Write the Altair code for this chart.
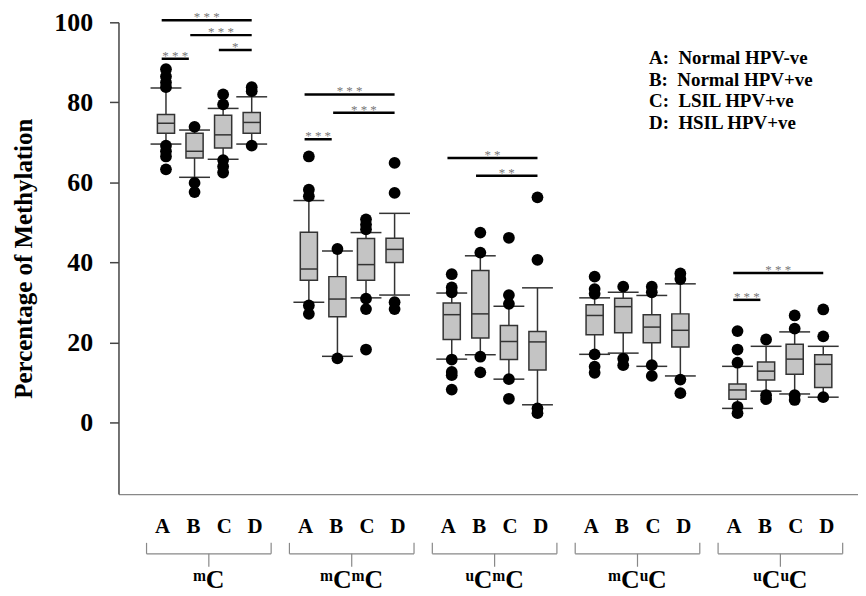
import altair as alt
import pandas as pd

# ---------------- data ----------------
group_names = ["mC", "mCmC", "uCmC", "mCuC", "uCuC"]
group_labels = ["ᵐC", "ᵐCᵐC", "ᵘCᵐC", "ᵐCᵘC", "ᵘCᵘC"]
letters = ["A", "B", "C", "D"]
legend_lines = [
    "A:\u00a0 Normal HPV-ve",
    "B:\u00a0 Normal HPV+ve",
    "C:\u00a0 LSIL HPV+ve",
    "D:\u00a0 HSIL HPV+ve",
]

# per group, per letter (A, B, C, D)
lower_whisker = [
    [69.6, 61.3, 65.8, 69.6],
    [30.1, 16.6, 31.2, 31.9],
    [15.9, 17.0, 10.9, 4.5],
    [17.1, 17.4, 14.1, 11.7],
    [3.6, 7.9, 7.2, 6.4],
]
q1 = [
    [72.3, 66.1, 68.6, 72.3],
    [35.6, 26.5, 35.6, 40.0],
    [20.8, 21.2, 15.8, 13.2],
    [22.0, 22.5, 20.0, 18.9],
    [5.9, 10.7, 12.1, 8.8],
]
median = [
    [74.8, 67.8, 71.9, 75.0],
    [38.4, 30.9, 39.5, 43.3],
    [27.0, 27.2, 20.3, 20.2],
    [26.8, 29.0, 23.9, 23.1],
    [8.2, 12.9, 15.9, 14.6],
]
q3 = [
    [77.0, 72.3, 76.8, 77.5],
    [47.6, 36.5, 46.0, 46.1],
    [29.9, 38.0, 24.3, 22.8],
    [29.5, 31.1, 27.0, 27.2],
    [9.7, 15.2, 19.6, 17.0],
]
upper_whisker = [
    [83.6, 73.1, 78.5, 81.4],
    [55.5, 42.9, 47.5, 52.3],
    [32.4, 41.7, 29.1, 33.7],
    [31.2, 32.6, 31.8, 34.7],
    [14.1, 19.1, 22.7, 19.1],
]
outliers = [
    [[88.3, 86.5, 85.0, 83.8, 69.2, 67.8, 66.5, 63.3],
     [73.9, 59.9, 57.6],
     [82.0, 79.5, 65.6, 64.0, 62.5],
     [83.8, 82.8, 69.2]],
    [[66.5, 58.2, 56.6, 29.3, 27.2],
     [43.4, 16.1],
     [50.8, 49.5, 48.3, 31.0, 28.4, 18.3],
     [64.9, 57.4, 30.1, 28.4]],
    [[37.1, 33.8, 32.6, 15.8, 12.7, 11.9, 8.3],
     [47.5, 42.5, 16.5, 12.6],
     [46.2, 31.9, 29.7, 10.9, 6.0],
     [56.3, 40.7, 3.6, 2.4]],
    [[36.5, 33.4, 32.2, 17.1, 14.0, 12.5],
     [34.0, 16.0, 14.4],
     [34.0, 32.6, 14.4, 11.7],
     [37.3, 35.9, 10.8, 7.4]],
    [[22.9, 18.3, 15.0, 4.0, 2.4],
     [20.8, 6.9, 5.9],
     [26.8, 23.5, 6.9, 5.7],
     [28.3, 21.6, 6.4]],
]

# significance bars: group index, from letter, to letter, height, label
sig_group = [0, 0, 0, 0, 1, 1, 1, 2, 2, 4, 4]
sig_from = [0, 1, 2, 0, 0, 1, 0, 0, 1, 0, 0]
sig_to = [3, 3, 3, 1, 3, 3, 1, 3, 3, 3, 1]
sig_y = [100.5, 96.8, 93.1, 90.9, 82.0, 77.4, 70.8, 66.1, 61.7, 37.4, 30.7]
sig_label = ["***", "***", "*", "***", "***", "***", "***", "**", "**", "***", "***"]

# ---------------- tables ----------------
SERIF = "Liberation Serif"
GAP = 5  # slots per group (4 boxes + 1 gap)

box_rows, cap_rows, out_rows = [], [], []
for g in range(len(group_names)):
    for i, L in enumerate(letters):
        s = g * GAP + i
        box_rows.append(dict(slot=s, bl=s - 0.3, br=s + 0.3,
                             lw=lower_whisker[g][i], q1=q1[g][i], med=median[g][i],
                             q3=q3[g][i], uw=upper_whisker[g][i]))
        for v in (lower_whisker[g][i], upper_whisker[g][i]):
            cap_rows.append(dict(xl=s - 0.54, xr=s + 0.54, v=v))
        for v in outliers[g][i]:
            out_rows.append(dict(slot=s, v=v))
boxes = pd.DataFrame(box_rows)
caps = pd.DataFrame(cap_rows)
outs = pd.DataFrame(out_rows)

sig_rows = []
for g, a, b, y, lab in zip(sig_group, sig_from, sig_to, sig_y, sig_label):
    x1 = g * GAP + a - 0.15
    x2 = g * GAP + b - (0.2 if b == 1 else 0.0)
    sig_rows.append(dict(x1=x1, x2=x2, xm=(x1 + x2) / 2, y=y, label=" ".join(lab)))
sig = pd.DataFrame(sig_rows)

lab_rows, brace_rows, glab_rows = [], [], []
for g, gl in enumerate(group_labels):
    c = g * GAP + 1.5
    for i, L in enumerate(letters):
        lab_rows.append(dict(x=c + (i - 1.5) * 1.08, letter=L))
    brace_rows.append(dict(bl=c - 2.18, br=c + 2.18, bc=c))
    glab_rows.append(dict(x=c, label=gl))
labs = pd.DataFrame(lab_rows)
braces = pd.DataFrame(brace_rows)
glabs = pd.DataFrame(glab_rows)

# ---------------- chart ----------------
xscale = alt.Scale(domain=[-1.662, 24.216], nice=False, zero=False)
yscale = alt.Scale(domain=[-17.8, 100], nice=False, zero=False)

yaxis = alt.Axis(
    values=[0, 20, 40, 60, 80, 100], grid=False,
    labelFont=SERIF, labelFontWeight="bold", labelFontSize=26, labelColor="black",
    labelPadding=17, tickSize=9, tickColor="#444", tickWidth=1.5,
    domainColor="#444", domainWidth=1.5,
    title="Percentage of Methylation", titleFont=SERIF, titleFontWeight="bold",
    titleFontSize=25, titleColor="black", titleAngle=-90, titleX=-95, titleY=237,
    titleAlign="center", titleBaseline="middle",
)
xaxis = alt.Axis(labels=False, ticks=False, grid=False, title=None,
                 domainColor="#888", domainWidth=1.2)

whisk = alt.Chart(boxes).mark_rule(color="#333", strokeWidth=1.5).encode(
    x=alt.X("slot:Q", scale=xscale, axis=xaxis),
    y=alt.Y("lw:Q", scale=yscale, axis=yaxis),
    y2="uw:Q",
)
cap = alt.Chart(caps).mark_rule(color="#333", strokeWidth=1.5).encode(
    x="xl:Q", x2="xr:Q", y="v:Q")
box = alt.Chart(boxes).mark_rect(fill="#c4c4c4", stroke="#333", strokeWidth=1.5).encode(
    x="bl:Q", x2="br:Q", y="q1:Q", y2="q3:Q")
med = alt.Chart(boxes).mark_rule(color="#333", strokeWidth=1.5).encode(
    x="bl:Q", x2="br:Q", y="med:Q")
pts = alt.Chart(outs).mark_circle(size=140, color="black", opacity=1).encode(
    x="slot:Q", y="v:Q")

sig_lines = alt.Chart(sig).mark_rule(color="black", strokeWidth=2.5).encode(
    x="x1:Q", x2="x2:Q", y="y:Q")
sig_text = alt.Chart(sig).mark_text(
    font=SERIF, color="#777", fontSize=13, dy=1, baseline="alphabetic"
).encode(x="xm:Q", y="y:Q", text="label:N")

letter_text = alt.Chart(labs).mark_text(
    font=SERIF, fontWeight="bold", fontSize=21, color="black", baseline="middle"
).encode(x="x:Q", y=alt.value(507), text="letter:N")

brace_h = alt.Chart(braces).mark_rule(color="#888", strokeWidth=1.2).encode(
    x="bl:Q", x2="br:Q", y=alt.value(534))
brace_l = alt.Chart(braces).mark_rule(color="#888", strokeWidth=1.2).encode(
    x="bl:Q", y=alt.value(523), y2=alt.value(534))
brace_r = alt.Chart(braces).mark_rule(color="#888", strokeWidth=1.2).encode(
    x="br:Q", y=alt.value(523), y2=alt.value(534))
brace_c = alt.Chart(braces).mark_rule(color="#888", strokeWidth=1.2).encode(
    x="bc:Q", y=alt.value(534), y2=alt.value(547))

group_text = alt.Chart(glabs).mark_text(
    font=SERIF, fontWeight="bold", fontSize=26, color="black", baseline="middle"
).encode(x="x:Q", y=alt.value(560), text="label:N")

legend_layers = []
for k, line in enumerate(legend_lines):
    legend_layers.append(
        alt.Chart(pd.DataFrame({"t": [line]})).mark_text(
            font=SERIF, fontWeight="bold", fontSize=19, color="black",
            align="left", baseline="middle"
        ).encode(x=alt.value(533), y=alt.value(36 + k * 21.7), text="t:N")
    )

chart = alt.layer(
    whisk, cap, box, med, pts, sig_lines, sig_text,
    letter_text, brace_h, brace_l, brace_r, brace_c, group_text,
    *legend_layers,
).properties(
    width=743, height=474,
    autosize=alt.AutoSizeParams(type="none"),
    padding={"left": 111, "top": 13, "right": 0, "bottom": 100},
    background="white",
).configure_view(stroke=None)

chart.save("out.html", embed_options={"renderer": "svg", "actions": False})
